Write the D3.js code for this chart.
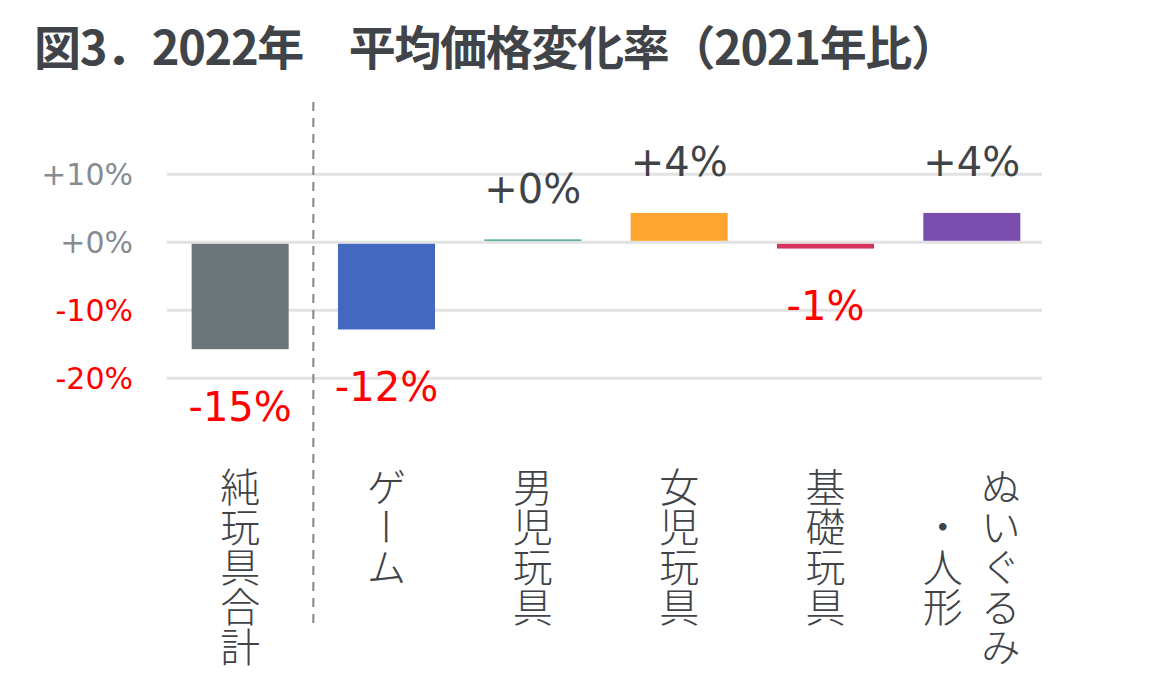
<!DOCTYPE html>
<html>
<head>
<meta charset="utf-8">
<script src="https://cdn.jsdelivr.net/npm/d3@7"></script>
<style>
body { margin: 0; background: #fff; }
</style>
</head>
<body>
<script>
var w = 1169;
var h = 676;

var titleText = "図3．2022年　平均価格変化率（2021年比）";
var categories = ["純玩具合計", "ゲーム", "男児玩具", "女児玩具", "基礎玩具", "ぬいぐるみ\n・人形"];
var changes = [-15.5, -12.6, 0.2, 4.1, -0.7, 4.1];     // % vs 2021
var valueLabels = ["-15%", "-12%", "+0%", "+4%", "-1%", "+4%"];
var barColors = ["#6b7479", "#4467bf", "#3aa18e", "#fea531", "#d6335f", "#7a4eae"];
var yTicks = [10, 0, -10, -20];
var yTickLabels = ["+10%", "+0%", "-10%", "-20%"];

var xScale = d3.scaleBand()
	.domain(categories)
	.range([167, 1045])
	.paddingInner(0.337)
	.paddingOuter(0.1685);

var yScale = d3.scaleLinear()
	.domain([-20, 10])
	.range([378.3, 174.3]);

var svg = d3.select("body")
	.append("svg")
	.attr("width", w)
	.attr("height", h);

svg.append("rect")
	.attr("width", w)
	.attr("height", h)
	.attr("fill", "#fff");

// title
svg.append("text")
	.attr("x", 34)
	.attr("y", 65)
	.attr("font-family", "'Noto Sans CJK JP', sans-serif")
	.attr("font-weight", 700)
	.attr("font-size", "47px")
	.attr("textLength", 924)
	.attr("lengthAdjust", "spacing")
	.attr("fill", "#404348")
	.text(titleText);

// gridlines
svg.selectAll("line.grid")
	.data(yTicks)
	.enter()
	.append("line")
	.attr("class", "grid")
	.attr("x1", 167)
	.attr("x2", 1042)
	.attr("y1", function(d) { return yScale(d); })
	.attr("y2", function(d) { return yScale(d); })
	.attr("stroke", "#e2e2e2")
	.attr("stroke-width", 3);

svg.selectAll("text.ytick")
	.data(yTicks)
	.enter()
	.append("text")
	.attr("class", "ytick")
	.attr("x", 133)
	.attr("y", function(d) { return yScale(d) + 11; })
	.attr("text-anchor", "end")
	.attr("font-family", "'DejaVu Sans', sans-serif")
	.attr("font-size", "30px")
	.attr("fill", function(d) { return d < 0 ? "#ff0000" : "#878c93"; })
	.text(function(d, i) { return yTickLabels[i]; });

// bars
svg.selectAll("rect.bar")
	.data(changes)
	.enter()
	.append("rect")
	.attr("class", "bar")
	.attr("x", function(d, i) { return xScale(categories[i]); })
	.attr("width", xScale.bandwidth())
	.attr("y", function(d) { return d >= 0 ? yScale(d) - 1.5 : yScale(0) + 1.5; })
	.attr("height", function(d) { return Math.abs(yScale(d) - yScale(0)); })
	.attr("fill", function(d, i) { return barColors[i]; });

svg.selectAll("text.val")
	.data(changes)
	.enter()
	.append("text")
	.attr("class", "val")
	.attr("x", function(d, i) { return xScale(categories[i]) + xScale.bandwidth() / 2; })
	.attr("y", function(d) { return d >= 0 ? yScale(d) - 38 : yScale(d) + 73; })
	.attr("text-anchor", "middle")
	.attr("font-family", "'DejaVu Sans', sans-serif")
	.attr("font-size", "40px")
	.attr("fill", function(d) { return d < 0 ? "#ff0000" : "#404348"; })
	.text(function(d, i) { return valueLabels[i]; });

// dashed separator between total and the breakdown
var sepX = xScale(categories[1]) - xScale.step() * xScale.paddingInner() / 2;
svg.append("line")
	.attr("x1", sepX)
	.attr("x2", sepX)
	.attr("y1", 102)
	.attr("y2", 624)
	.attr("stroke", "#7f868f")
	.attr("stroke-width", 2)
	.attr("stroke-dasharray", "9,7");

// vertical category labels
var fs = 40;
var labelTop = 467;
var colGap = 58;
categories.forEach(function(c, i) {
	var lines = c.split("\n");
	var maxLen = d3.max(lines, function(l) { return l.length; });
	var cx = xScale(c) + xScale.bandwidth() / 2;
	lines.forEach(function(l, j) {
		svg.append("text")
			.attr("x", cx + (lines.length - 1) / 2 * colGap - j * colGap)
			.attr("y", labelTop + maxLen * fs / 2)
			.attr("text-anchor", "middle")
			.style("writing-mode", "vertical-rl")
			.attr("font-family", "'Noto Sans CJK JP', sans-serif")
			.attr("font-weight", 300)
			.attr("font-size", fs + "px")
			.attr("fill", "#404348")
			.text(l);
	});
});
</script>
</body>
</html>
